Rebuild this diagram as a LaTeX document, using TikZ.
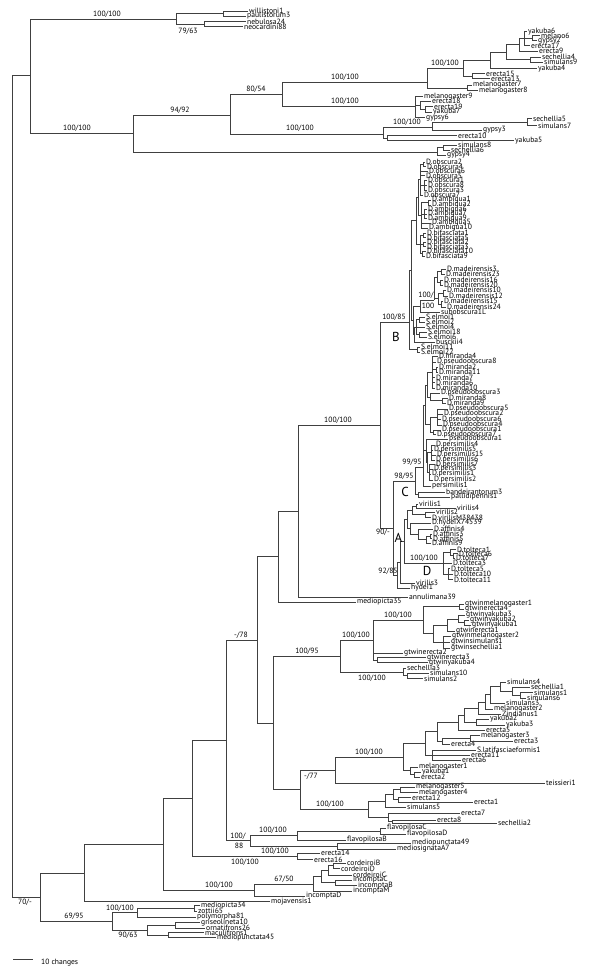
\documentclass[tikz,border=0pt]{standalone}
\usepackage{fontspec}
\setmainfont{PT Sans}
\begin{document}
\begin{tikzpicture}[x=1pt,y=-1pt,
  br/.style={draw=black!75, line width=0.6pt},
  leaf/.style={anchor=west, inner sep=1pt, font=\fontsize{7.6}{7.6}\selectfont},
  bs/.style={inner sep=0pt, font=\fontsize{7.6}{7.6}\selectfont},
  clade/.style={inner sep=0pt, font=\fontsize{13}{13}\selectfont}]
\useasboundingbox (0,0) rectangle (600,969);
% Tips:
\node[leaf] (wil1) at (248,11) {willistoni1};
\node[leaf] (pau3) at (246,16) {paulistorum3};
\node[leaf] (neb24) at (246,21.5) {nebulosa24};
\node[leaf] (neo88) at (243,26.5) {neocardini88};
\node[leaf] (yak6) at (527,31.5) {yakuba6};
\node[leaf] (mel6) at (540,35.5) {melano6};
\node[leaf] (gyp2) at (537,40.5) {gypsy2};
\node[leaf] (ere17) at (530,45.5) {erecta17};
\node[leaf] (ere9) at (538,51) {erecta9};
\node[leaf] (sec4) at (541,57) {sechellia4};
\node[leaf] (sim9) at (543,62) {simulans9};
\node[leaf] (yak4) at (537,68.5) {yakuba4};
\node[leaf] (ere15) at (485,73.5) {erecta15};
\node[leaf] (ere13) at (490,78.5) {erecta13};
\node[leaf] (mel7) at (472,85) {melanogaster7};
\node[leaf] (mel8) at (478,90.5) {melanogaster8};
\node[leaf] (mel9) at (423,96.5) {melanogaster9};
\node[leaf] (ere18) at (431,101) {erecta18};
\node[leaf] (ere19) at (433,106.5) {erecta19};
\node[leaf] (yak7) at (432,112) {yakuba7};
\node[leaf] (gyp6) at (425,117.5) {gypsy6};
\node[leaf] (sec5) at (532,118.5) {sechellia5};
\node[leaf] (sim7) at (537,125.5) {simulans7};
\node[leaf] (gyp3) at (482,130) {gypsy3};
\node[leaf] (ere10) at (457,135.5) {erecta10};
\node[leaf] (yak5) at (514,140.5) {yakuba5};
\node[leaf] (sim8) at (457,145) {simulans8};
\node[leaf] (sec6) at (450,150) {sechellia6};
\node[leaf] (gyp4) at (446,155) {gypsy4};
\node[leaf] (ob2) at (425,162) {D.obscura2};
\node[leaf] (ob4) at (426,166.5) {D.obscura4};
\node[leaf] (ob6) at (428,171) {D.obscura6};
\node[leaf] (ob5) at (425,175.5) {D.obscura5};
\node[leaf] (ob1) at (427,180) {D.obscura1};
\node[leaf] (ob8) at (427,185) {D.obscura8};
\node[leaf] (ob3) at (427,190) {D.obscura3};
\node[leaf] (ob7) at (423,195) {D.obscura7};
\node[leaf] (am1) at (431,200) {D.ambigua1};
\node[leaf] (am2) at (431,205) {D.ambigua2};
\node[leaf] (am6) at (427,209.5) {D.ambigua6};
\node[leaf] (am7) at (427,214) {D.ambigua7};
\node[leaf] (am9) at (427,218.5) {D.ambigua9};
\node[leaf] (am5) at (431,223) {D.ambigua5};
\node[leaf] (am10) at (428,228) {D.ambigua10};
\node[leaf] (bi1) at (426,233) {D.bifasciata1};
\node[leaf] (bi5) at (426,237.5) {D.bifasciata5};
\node[leaf] (bi2) at (426,242) {D.bifasciata2};
\node[leaf] (bi3) at (426,246.5) {D.bifasciata3};
\node[leaf] (bi10) at (426,251) {D.bifasciata10};
\node[leaf] (bi9) at (425,256) {D.bifasciata9};
\node[leaf] (ma3) at (446,269) {D.madeirensis3};
\node[leaf] (ma23) at (445,274) {D.madeirensis23};
\node[leaf] (ma16) at (443,280) {D.madeirensis16};
\node[leaf] (ma20) at (443,285) {D.madeirensis20};
\node[leaf] (ma10) at (446,290) {D.madeirensis10};
\node[leaf] (ma12) at (448,296) {D.madeirensis12};
\node[leaf] (ma15) at (443,301) {D.madeirensis15};
\node[leaf] (ma24) at (446,307) {D.madeirensis24};
\node[leaf] (sub1L) at (440,312) {subobscura1L};
\node[leaf] (el1) at (425,317) {S.elmoi1};
\node[leaf] (el2) at (425,322) {S.elmoi2};
\node[leaf] (el4) at (425,327) {S.elmoi4};
\node[leaf] (el18) at (427,332) {S.elmoi18};
\node[leaf] (el6) at (427,337) {S.elmoi6};
\node[leaf] (bus4) at (435,342) {busckii4};
\node[leaf] (el11) at (420,347) {S.elmoi11};
\node[leaf] (el22) at (420,352) {S.elmoi22};
\node[leaf] (mi4) at (438,356) {D.miranda4};
\node[leaf] (ps8) at (436,362) {D.pseudoobscura8};
\node[leaf] (mi2) at (438,367) {D.miranda2};
\node[leaf] (mi11) at (438,372) {D.miranda11};
\node[leaf] (mi7) at (435,377.5) {D.miranda7};
\node[leaf] (mi6) at (435,382.5) {D.miranda6};
\node[leaf] (mi10) at (435,388) {D.miranda10};
\node[leaf] (ps3) at (440,393) {D.pseudoobscura3};
\node[leaf] (mi8) at (448,398) {D.miranda8};
\node[leaf] (mi9) at (446,403) {D.miranda9};
\node[leaf] (ps5) at (448,409) {D.pseudoobscura5};
\node[leaf] (ps2) at (443,414) {D.pseudoobscura2};
\node[leaf] (ps6) at (441,419.5) {D.pseudoobscura6};
\node[leaf] (ps4) at (442,425) {D.pseudoobscura4};
\node[leaf] (ps1) at (441,430) {D.pseudoobscura1};
\node[leaf] (ps7) at (436,434.5) {D.pseudoobscura7};
\node[leaf] (pso1) at (448,439) {pseudoobscura1};
\node[leaf] (pe4) at (435,445) {D.persimilis4};
\node[leaf] (pe5) at (433,450) {D.persimilis5};
\node[leaf] (pe15) at (436,455) {D.persimilis15};
\node[leaf] (pe6) at (435,460) {D.persimilis6};
\node[leaf] (pe7) at (435,464.5) {D.persimilis7};
\node[leaf] (pe3) at (433,469) {D.persimilis3};
\node[leaf] (pe1) at (431,474) {D.persimilis1};
\node[leaf] (pe2) at (433,480) {D.persimilis2};
\node[leaf] (per1) at (431,486) {persimilis1};
\node[leaf] (ban3) at (445,492) {bandeirantorum3};
\node[leaf] (pal1) at (450,497) {pallidipennis1};
\node[leaf] (v1) at (418,504) {virilis1};
\node[leaf] (v4) at (456,508) {virilis4};
\node[leaf] (v2) at (435,512) {virilis2};
\node[leaf] (vM) at (431,517.5) {D.virilisM38438};
\node[leaf] (hX) at (431,523) {D.hydeiX74539};
\node[leaf] (af4) at (433,529) {D.affinis4};
\node[leaf] (af3) at (432,534) {D.affinis3};
\node[leaf] (af5) at (432,538.5) {D.affinis5};
\node[leaf] (af9) at (431,543) {D.affinis9};
\node[leaf] (to1) at (456,549.5) {D.tolteca1};
\node[leaf] (to6) at (458,553.5) {D.tolteca6};
\node[leaf] (to7) at (455,558) {D.tolteca7};
\node[leaf] (to3) at (452,563) {D.tolteca3};
\node[leaf] (to5) at (450,568.5) {D.tolteca5};
\node[leaf] (to10) at (453,574) {D.tolteca10};
\node[leaf] (to11) at (453,579.5) {D.tolteca11};
\node[leaf] (v3) at (415,583) {virilis3};
\node[leaf] (hy1) at (410,588) {hydei1};
\node[leaf] (ann39) at (408,597) {annulimana39};
\node[leaf] (med35) at (356,602) {mediopicta35};
\node[leaf] (gm1) at (464,604) {gtwinmelanogaster1};
\node[leaf] (ge4) at (464,609) {gtwinerecta4};
\node[leaf] (gy3) at (465,615) {gtwinyakuba3};
\node[leaf] (gy2) at (469,620) {gtwinyakuba2};
\node[leaf] (gy1) at (471,625) {gtwinyakuba1};
\node[leaf] (ge1) at (455,631) {gtwinerecta1};
\node[leaf] (gm2) at (451,636) {gtwinmelanogaster2};
\node[leaf] (gs1) at (450,642) {gtwinsimulans1};
\node[leaf] (gse1) at (450,648) {gtwinsechellia1};
\node[leaf] (ge2) at (403,653) {gtwinerecta2};
\node[leaf] (ge3) at (426,657.5) {gtwinerecta3};
\node[leaf] (gy4) at (428,662.5) {gtwinyakuba4};
\node[leaf] (sec3) at (406,668) {sechellia3};
\node[leaf] (sim10) at (429,673) {simulans10};
\node[leaf] (sim2) at (423,678.5) {simulans2};
\node[leaf] (sim4) at (506,682) {simulans4};
\node[leaf] (sec1) at (530,687) {sechellia1};
\node[leaf] (sim1) at (533,692.5) {simulans1};
\node[leaf] (sim6) at (526,698) {simulans6};
\node[leaf] (sim3) at (505,703) {simulans3};
\node[leaf] (mel2) at (493,709) {melanogaster2};
\node[leaf] (zin1) at (501,714) {Zindianus1};
\node[leaf] (yak2) at (489,719) {yakuba2};
\node[leaf] (yak3) at (505,725) {yakuba3};
\node[leaf] (ere5) at (485,730) {erecta5};
\node[leaf] (mel3) at (480,735.5) {melanogaster3};
\node[leaf] (ere3) at (513,741) {erecta3};
\node[leaf] (ere4) at (450,744) {erecta4};
\node[leaf] (slat) at (476,750) {S.latifasciaeformis1};
\node[leaf] (ere11) at (470,755) {erecta11};
\node[leaf] (ere6) at (461,760) {erecta6};
\node[leaf] (mel1) at (418,767) {melanogaster1};
\node[leaf] (yak1) at (421,772) {yakuba1};
\node[leaf] (ere2) at (420,777) {erecta2};
\node[leaf] (tei1) at (545,783) {teissieri1};
\node[leaf] (mel5) at (415,787) {melanogaster5};
\node[leaf] (mel4) at (418,792.5) {melanogaster4};
\node[leaf] (ere12) at (411,797.5) {erecta12};
\node[leaf] (ere1) at (473,802) {erecta1};
\node[leaf] (sim5) at (406,807) {simulans5};
\node[leaf] (ere7) at (460,813) {erecta7};
\node[leaf] (ere8) at (436,820) {erecta8};
\node[leaf] (sec2) at (497,823) {sechellia2};
\node[leaf] (flC) at (386,828) {flavopilosaC};
\node[leaf] (flD) at (406,834) {flavopilosaD};
\node[leaf] (flB) at (346,840) {flavopilosaB};
\node[leaf] (mp49) at (411,843) {mediopunctata49};
\node[leaf] (msA7) at (396,849) {mediosignataA7};
\node[leaf] (e14) at (320,853) {erecta14};
\node[leaf] (e16) at (313,859.5) {erecta16};
\node[leaf] (coB) at (346,863) {cordeiroiB};
\node[leaf] (coD) at (340,868.5) {cordeiroiD};
\node[leaf] (coC) at (352,875) {cordeiroiC};
\node[leaf] (inC) at (352,880) {incomptaC};
\node[leaf] (inB) at (357,885.5) {incomptaB};
\node[leaf] (inM) at (352,891) {incomptaM};
\node[leaf] (inD) at (305,896) {incomptaD};
\node[leaf] (moj1) at (270,901.5) {mojavensis1};
\node[leaf] (mp34) at (200,905.5) {mediopicta34};
\node[leaf] (zo65) at (197,911) {zottii65};
\node[leaf] (po81) at (196,917) {polymorpha81};
\node[leaf] (gr10) at (200,922.5) {griseolineta10};
\node[leaf] (or26) at (205,928) {ornatifrons26};
\node[leaf] (mc1) at (204,932.5) {maculifrons1};
\node[leaf] (mp45) at (216,937.5) {mediopunctata45};
% Inner nodes:
\coordinate (n12) at (12,486);
\coordinate (n30) at (30,75);
\coordinate (n176) at (176,19);
\coordinate (n223) at (223,13.5);
\coordinate (n204) at (204,24);
\coordinate (n133) at (133,133);
\coordinate (n230) at (230,115);
\coordinate (n282) at (282,94);
\coordinate (n427) at (427,82);
\coordinate (n463) at (463,68);
\coordinate (n490) at (490,60);
\coordinate (n506) at (506,52);
\coordinate (n519) at (519,44.5);
\coordinate (n524) at (524,38);
\coordinate (n532) at (532,38);
\coordinate (n530) at (530,59.5);
\coordinate (n472) at (472,76);
\coordinate (n467) at (467,88);
\coordinate (n415) at (415,106);
\coordinate (n420) at (420,105);
\coordinate (n425) at (425,109);
\coordinate (n383) at (383,134);
\coordinate (n432) at (432,127);
\coordinate (n527) at (527,122);
\coordinate (n387) at (387,138);
\coordinate (n437) at (437,152);
\coordinate (n443) at (443,147.5);
\coordinate (n40) at (40,897);
\coordinate (n84) at (84,873);
\coordinate (n163) at (163,844);
\coordinate (n192) at (192,798);
\coordinate (n226) at (226,740);
\coordinate (n257) at (257,640);
\coordinate (n278) at (278,556);
\coordinate (n298) at (298,511);
\coordinate (n380) at (380,425);
\coordinate (n410) at (409,322);
\coordinate (nB1) at (411,270);
\coordinate (nOAB) at (416,220.7);
\coordinate (nOA) at (418,197);
\coordinate (nOb) at (420.5,179.5);
\coordinate (nOb1) at (423,164.25);
\coordinate (nOb2) at (424.5,185);
\coordinate (nAm) at (421,215);
\coordinate (nAm1) at (428,202.5);
\coordinate (nAm2) at (424,214);
\coordinate (nBi) at (420,244.4);
\coordinate (nBi1) at (423,235.25);
\coordinate (nBi2) at (423,244.25);
\coordinate (nBi3) at (422.5,253.5);
\coordinate (nMSE) at (413,320);
\coordinate (nMS) at (420,306);
\coordinate (nMad) at (434,300);
\coordinate (nMa12) at (437,277);
\coordinate (nMa34) at (438,298.5);
\coordinate (nMa1) at (441,271.5);
\coordinate (nMa2) at (440,282.5);
\coordinate (nMa3) at (443,293);
\coordinate (nMa4) at (441,304);
\coordinate (nElb) at (414,334.5);
\coordinate (nEl) at (416,327);
\coordinate (nEl1) at (419,319.5);
\coordinate (nEl2) at (419,334.5);
\coordinate (nEl11) at (417,349.5);
\coordinate (n393) at (393,528);
\coordinate (nC98) at (415,481);
\coordinate (nC99) at (423,467);
\coordinate (nPM) at (425,405);
\coordinate (nMP) at (427,385);
\coordinate (nMir) at (432,372);
\coordinate (nMi2) at (436,369.5);
\coordinate (nPs) at (430,397);
\coordinate (nM89) at (442,400.5);
\coordinate (nP57) at (430,424.5);
\coordinate (nP5) at (437,417);
\coordinate (nP7) at (433,432);
\coordinate (nPeP) at (426,450.5);
\coordinate (nPe) at (427,462);
\coordinate (nPe1) at (431,452.5);
\coordinate (nPe2) at (429,472);
\coordinate (nBP) at (418,494.5);
\coordinate (nHy) at (397,575);
\coordinate (nV3) at (400,562);
\coordinate (nVD) at (404,541);
\coordinate (nVH) at (407,519.5);
\coordinate (nVir) at (412,510.4);
\coordinate (nV1) at (416,506);
\coordinate (nV2) at (425,514.75);
\coordinate (nHA) at (410,528.7);
\coordinate (nAff) at (418,534.3);
\coordinate (nAffX) at (426,539.6);
\coordinate (n430) at (430,536.25);
\coordinate (nD) at (443,563);
\coordinate (nT16) at (450,552.6);
\coordinate (n453) at (453,555.75);
\coordinate (nT35) at (448,574);
\coordinate (n273) at (273,723);
\coordinate (n340) at (340,656);
\coordinate (n373) at (373,640);
\coordinate (n423g) at (423,620);
\coordinate (nGM) at (459,606.5);
\coordinate (nG433) at (433,633.5);
\coordinate (nGE) at (447,625);
\coordinate (nGY) at (458,619);
\coordinate (nGY2) at (464,622.5);
\coordinate (nGS) at (443,642);
\coordinate (n377) at (377,660);
\coordinate (n403b) at (403,671.9);
\coordinate (n407) at (407,675.75);
\coordinate (n300) at (300,789.5);
\coordinate (n335) at (335,770);
\coordinate (n403) at (403,757);
\coordinate (nM) at (425,743.4);
\coordinate (nTop) at (437,731.75);
\coordinate (nT2) at (458,722.5);
\coordinate (nT1) at (464,715);
\coordinate (nZ) at (478,708);
\coordinate (nS5) at (485,702);
\coordinate (nS4) at (490,694.75);
\coordinate (nSim) at (500,686.5);
\coordinate (nS2) at (512,691);
\coordinate (n520s) at (520,695.25);
\coordinate (nYk2) at (476,722);
\coordinate (nE4) at (442,741);
\coordinate (nE3) at (470,738.25);
\coordinate (nLow) at (432,755);
\coordinate (nMel1) at (410,770.75);
\coordinate (n414) at (414,774.5);
\coordinate (n368) at (368,809);
\coordinate (nB8) at (385,801);
\coordinate (nA8) at (393,794.75);
\coordinate (nMel45) at (400,789.75);
\coordinate (nE12) at (398,799.75);
\coordinate (nE78) at (388,817.25);
\coordinate (n392) at (392,821.5);
\coordinate (n250) at (250,840.75);
\coordinate (n297f) at (297,835.5);
\coordinate (n380f) at (380,831);
\coordinate (n337) at (337,846);
\coordinate (nE14) at (297,856.25);
\coordinate (n254) at (254,890);
\coordinate (n313) at (313,883.8);
\coordinate (n321) at (321,876.6);
\coordinate (n328) at (328,870.4);
\coordinate (n333c) at (333,865.75);
\coordinate (n335i) at (335,882.75);
\coordinate (n112) at (112,921.4);
\coordinate (n137) at (137,912.6);
\coordinate (n194) at (194,908.25);
\coordinate (n147) at (147,930.1);
\coordinate (n175) at (175,925.25);
\coordinate (n168) at (168,935);
% Branches:
\draw[br] (n12) |- (n30) (n12) |- (n40);
\draw[br] (n30) |- (n176) (n30) |- (n133);
\draw[br] (n176) |- (n223) (n176) |- (n204);
\draw[br] (n223) |- (wil1.west) (n223) |- (pau3.west);
\draw[br] (n204) |- (neb24.west) (n204) |- (neo88.west);
\draw[br] (n133) |- (n230) (n133) |- (n437);
\draw[br] (n230) |- (n282) (n230) |- (n383);
\draw[br] (n282) |- (n427) (n282) |- (n415);
\draw[br] (n427) |- (n463) (n427) |- (n467);
\draw[br] (n463) |- (n490) (n463) |- (n472);
\draw[br] (n490) |- (n506) (n490) |- (yak4.west);
\draw[br] (n506) |- (n519) (n506) |- (n530);
\draw[br] (n519) |- (n524) (n519) |- (ere9.west);
\draw[br] (n524) |- (yak6.west) (n524) -- (n532) (n524) |- (ere17.west);
\draw[br] (n532) |- (mel6.west) (n532) |- (gyp2.west);
\draw[br] (n530) |- (sec4.west) (n530) |- (sim9.west);
\draw[br] (n472) |- (ere15.west) (n472) |- (ere13.west);
\draw[br] (n467) |- (mel7.west) (n467) |- (mel8.west);
\draw[br] (n415) |- (mel9.west) (n415) |- (n420) (n415) |- (gyp6.west);
\draw[br] (n420) |- (ere18.west) (n420) |- (n425);
\draw[br] (n425) |- (ere19.west) (n425) |- (yak7.west);
\draw[br] (n383) |- (n432) (n383) |- (n387);
\draw[br] (n432) |- (n527) (n432) |- (gyp3.west);
\draw[br] (n527) |- (sec5.west) (n527) |- (sim7.west);
\draw[br] (n387) |- (ere10.west) (n387) |- (yak5.west);
\draw[br] (n437) |- (n443) (n437) |- (gyp4.west);
\draw[br] (n443) |- (sim8.west) (n443) |- (sec6.west);
\draw[br] (n40) |- (n84) (n40) |- (n112);
\draw[br] (n84) |- (n163) (n84) |- (moj1.west);
\draw[br] (n163) |- (n192) (n163) |- (n254);
\draw[br] (n192) |- (n226) (n192) |- (nE14);
\draw[br] (n226) |- (n257) (n226) |- (n250);
\draw[br] (n257) |- (n278) (n257) |- (n273);
\draw[br] (n278) |- (n298) (n278) |- (med35.west);
\draw[br] (n298) |- (n380) (n298) |- (ann39.west);
\draw[br] (n380) |- (n410) (n380) |- (n393);
\draw[br] (n410) |- (nB1) (n410) |- (nEl11);
\draw[br] (nB1) |- (nOAB) (nB1) |- (nMSE);
\draw[br] (nOAB) |- (nOA) (nOAB) |- (nBi);
\draw[br] (nOA) |- (nOb) (nOA) |- (nAm);
\draw[br] (nOb) |- (nOb1) (nOb) |- (ob6.west) (nOb) |- (ob5.west) (nOb) |- (nOb2) (nOb) |- (ob7.west);
\draw[br] (nOb1) |- (ob2.west) (nOb1) |- (ob4.west);
\draw[br] (nOb2) |- (ob1.west) (nOb2) |- (ob8.west) (nOb2) |- (ob3.west);
\draw[br] (nAm) |- (nAm1) (nAm) |- (nAm2) (nAm) |- (am5.west) (nAm) |- (am10.west);
\draw[br] (nAm1) |- (am1.west) (nAm1) |- (am2.west);
\draw[br] (nAm2) |- (am6.west) (nAm2) |- (am7.west) (nAm2) |- (am9.west);
\draw[br] (nBi) |- (nBi1) (nBi) |- (nBi2) (nBi) |- (nBi3);
\draw[br] (nBi1) |- (bi1.west) (nBi1) |- (bi5.west);
\draw[br] (nBi2) |- (bi2.west) (nBi2) |- (bi3.west);
\draw[br] (nBi3) |- (bi10.west) (nBi3) |- (bi9.west);
\draw[br] (nMSE) |- (nMS) (nMSE) |- (nElb);
\draw[br] (nMS) |- (nMad) (nMS) |- (sub1L.west);
\draw[br] (nMad) |- (nMa12) (nMad) |- (nMa34);
\draw[br] (nMa12) |- (nMa1) (nMa12) |- (nMa2);
\draw[br] (nMa34) |- (nMa3) (nMa34) |- (nMa4);
\draw[br] (nMa1) |- (ma3.west) (nMa1) |- (ma23.west);
\draw[br] (nMa2) |- (ma16.west) (nMa2) |- (ma20.west);
\draw[br] (nMa3) |- (ma10.west) (nMa3) |- (ma12.west);
\draw[br] (nMa4) |- (ma15.west) (nMa4) |- (ma24.west);
\draw[br] (nElb) |- (nEl) (nElb) |- (bus4.west);
\draw[br] (nEl) |- (nEl1) (nEl) |- (el4.west) (nEl) |- (nEl2);
\draw[br] (nEl1) |- (el1.west) (nEl1) |- (el2.west);
\draw[br] (nEl2) |- (el18.west) (nEl2) |- (el6.west);
\draw[br] (nEl11) |- (el11.west) (nEl11) |- (el22.west);
\draw[br] (n393) |- (nC98) (n393) |- (nHy);
\draw[br] (nC98) |- (nC99) (nC98) |- (nBP);
\draw[br] (nC99) |- (nPM) (nC99) |- (nPeP) (nC99) |- (per1.west);
\draw[br] (nPM) |- (nMP) (nPM) |- (nP57);
\draw[br] (nMP) |- (nMir) (nMP) |- (nPs);
\draw[br] (nMir) |- (mi4.west) (nMir) |- (ps8.west) (nMir) |- (nMi2) (nMir) |- (mi7.west) (nMir) |- (mi6.west) (nMir) |- (mi10.west);
\draw[br] (nMi2) |- (mi2.west) (nMi2) |- (mi11.west);
\draw[br] (nPs) |- (ps3.west) (nPs) |- (nM89);
\draw[br] (nM89) |- (mi8.west) (nM89) |- (mi9.west);
\draw[br] (nP57) |- (nP5) (nP57) |- (nP7);
\draw[br] (nP5) |- (ps5.west) (nP5) |- (ps2.west) (nP5) |- (ps6.west) (nP5) |- (ps4.west);
\draw[br] (nP7) |- (ps1.west) (nP7) |- (ps7.west);
\draw[br] (nPeP) |- (pso1.west) (nPeP) |- (nPe);
\draw[br] (nPe) |- (nPe1) (nPe) |- (nPe2);
\draw[br] (nPe1) |- (pe4.west) (nPe1) |- (pe5.west) (nPe1) |- (pe15.west) (nPe1) |- (pe6.west);
\draw[br] (nPe2) |- (pe7.west) (nPe2) |- (pe3.west) (nPe2) |- (pe1.west) (nPe2) |- (pe2.west);
\draw[br] (nBP) |- (ban3.west) (nBP) |- (pal1.west);
\draw[br] (nHy) |- (nV3) (nHy) |- (hy1.west);
\draw[br] (nV3) |- (nVD) (nV3) |- (v3.west);
\draw[br] (nVD) |- (nVH) (nVD) |- (nD);
\draw[br] (nVH) |- (nVir) (nVH) |- (nHA);
\draw[br] (nVir) |- (nV1) (nVir) |- (nV2);
\draw[br] (nV1) |- (v1.west) (nV1) |- (v4.west);
\draw[br] (nV2) |- (v2.west) (nV2) |- (vM.west);
\draw[br] (nHA) |- (hX.west) (nHA) |- (nAff);
\draw[br] (nAff) |- (af4.west) (nAff) |- (nAffX);
\draw[br] (nAffX) |- (n430) (nAffX) |- (af9.west);
\draw[br] (n430) |- (af3.west) (n430) |- (af5.west);
\draw[br] (nD) |- (nT16) (nD) |- (to3.west) (nD) |- (nT35);
\draw[br] (nT16) |- (to1.west) (nT16) |- (n453);
\draw[br] (n453) |- (to6.west) (n453) |- (to7.west);
\draw[br] (nT35) |- (to5.west) (nT35) |- (to10.west) (nT35) |- (to11.west);
\draw[br] (n273) |- (n340) (n273) |- (n300);
\draw[br] (n340) |- (n373) (n340) |- (n403b);
\draw[br] (n373) |- (n423g) (n373) |- (ge2.west) (n373) |- (n377);
\draw[br] (n423g) |- (nGM) (n423g) |- (nG433);
\draw[br] (nGM) |- (gm1.west) (nGM) |- (ge4.west);
\draw[br] (nG433) |- (nGE) (nG433) |- (nGS);
\draw[br] (nGE) |- (nGY) (nGE) |- (ge1.west);
\draw[br] (nGY) |- (gy3.west) (nGY) |- (nGY2);
\draw[br] (nGY2) |- (gy2.west) (nGY2) |- (gy1.west);
\draw[br] (nGS) |- (gm2.west) (nGS) |- (gs1.west) (nGS) |- (gse1.west);
\draw[br] (n377) |- (ge3.west) (n377) |- (gy4.west);
\draw[br] (n403b) |- (sec3.west) (n403b) |- (n407);
\draw[br] (n407) |- (sim10.west) (n407) |- (sim2.west);
\draw[br] (n300) |- (n335) (n300) |- (n368);
\draw[br] (n335) |- (n403) (n335) |- (tei1.west);
\draw[br] (n403) |- (nM) (n403) |- (nMel1);
\draw[br] (nM) |- (nTop) (nM) |- (nLow);
\draw[br] (nTop) |- (nT2) (nTop) |- (nE4);
\draw[br] (nT2) |- (nT1) (nT2) |- (ere5.west);
\draw[br] (nT1) |- (nZ) (nT1) |- (nYk2);
\draw[br] (nZ) |- (nS5) (nZ) |- (zin1.west);
\draw[br] (nS5) |- (nS4) (nS5) |- (mel2.west);
\draw[br] (nS4) |- (nSim) (nS4) |- (sim3.west);
\draw[br] (nSim) |- (sim4.west) (nSim) |- (nS2);
\draw[br] (nS2) |- (sec1.west) (nS2) |- (n520s);
\draw[br] (n520s) |- (sim1.west) (n520s) |- (sim6.west);
\draw[br] (nYk2) |- (yak2.west) (nYk2) |- (yak3.west);
\draw[br] (nE4) |- (nE3) (nE4) |- (ere4.west);
\draw[br] (nE3) |- (mel3.west) (nE3) |- (ere3.west);
\draw[br] (nLow) |- (slat.west) (nLow) |- (ere11.west) (nLow) |- (ere6.west);
\draw[br] (nMel1) |- (mel1.west) (nMel1) |- (n414);
\draw[br] (n414) |- (yak1.west) (n414) |- (ere2.west);
\draw[br] (n368) |- (nB8) (n368) |- (nE78);
\draw[br] (nB8) |- (nA8) (nB8) |- (sim5.west);
\draw[br] (nA8) |- (nMel45) (nA8) |- (nE12);
\draw[br] (nMel45) |- (mel5.west) (nMel45) |- (mel4.west);
\draw[br] (nE12) |- (ere12.west) (nE12) |- (ere1.west);
\draw[br] (nE78) |- (ere7.west) (nE78) |- (n392);
\draw[br] (n392) |- (ere8.west) (n392) |- (sec2.west);
\draw[br] (n250) |- (n297f) (n250) |- (n337);
\draw[br] (n297f) |- (n380f) (n297f) |- (flB.west);
\draw[br] (n380f) |- (flC.west) (n380f) |- (flD.west);
\draw[br] (n337) |- (mp49.west) (n337) |- (msA7.west);
\draw[br] (nE14) |- (e14.west) (nE14) |- (e16.west);
\draw[br] (n254) |- (n313) (n254) |- (inD.west);
\draw[br] (n313) |- (n321) (n313) |- (inM.west);
\draw[br] (n321) |- (n328) (n321) |- (n335i);
\draw[br] (n328) |- (n333c) (n328) |- (coC.west);
\draw[br] (n333c) |- (coB.west) (n333c) |- (coD.west);
\draw[br] (n335i) |- (inC.west) (n335i) |- (inB.west);
\draw[br] (n112) |- (n137) (n112) |- (n147);
\draw[br] (n137) |- (n194) (n137) |- (po81.west);
\draw[br] (n194) |- (mp34.west) (n194) |- (zo65.west);
\draw[br] (n147) |- (n175) (n147) |- (n168);
\draw[br] (n175) |- (gr10.west) (n175) |- (or26.west);
\draw[br] (n168) |- (mc1.west) (n168) |- (mp45.west);
% Support values and clade letters:
\node[bs] (s1) at (107,14) {100/100};
\node[bs] (s2) at (188,31) {79/63};
\node[bs] (s3) at (77,128) {100/100};
\node[bs] (s4) at (180,110) {94/92};
\node[bs] (s5) at (256,89) {80/54};
\node[bs] (s6) at (300,128) {100/100};
\node[bs] (s7) at (345,77) {100/100};
\node[bs] (s8) at (345,101) {100/100};
\node[bs] (s9) at (445,63) {100/100};
\node[bs] (s10) at (407,122) {100/100};
\node[bs] (s11) at (338,420) {100/100};
\node[bs] (s12) at (394,317) {100/85};
\node[bs] (s13) at (426,295) {100/};
\node[bs] (s14) at (428,305.5) {100};
\node[bs] (s15) at (412,462) {99/95};
\node[bs] (s16) at (404,476.5) {98/95};
\node[bs] (s17) at (383,532) {90/-};
\node[bs] (s18) at (388,571) {92/85};
\node[bs] (s19) at (424,558) {100/100};
\node[bs] (s20) at (241,635) {-/78};
\node[bs] (s21) at (398,615) {100/100};
\node[bs] (s22) at (356,635) {100/100};
\node[bs] (s23) at (372,678) {100/100};
\node[bs] (s24) at (307,651) {100/95};
\node[bs] (s25) at (369,752) {100/100};
\node[bs] (s26) at (311,776) {-/77};
\node[bs] (s27) at (330,804) {100/100};
\node[bs] (s28) at (238,836) {100/};
\node[bs] (s29) at (239,846) {88};
\node[bs] (s30) at (273,830) {100/100};
\node[bs] (s31) at (275,851) {100/100};
\node[bs] (s32) at (245,862) {100/100};
\node[bs] (s33) at (219,885) {100/100};
\node[bs] (s34) at (284,879) {67/50};
\node[bs] (s35) at (25,902) {70/-};
\node[bs] (s36) at (74,916.5) {69/95};
\node[bs] (s37) at (120,908) {100/100};
\node[bs] (s38) at (128,935) {90/63};
\node[clade] (cB) at (396,337) {B};
\node[clade] (cC) at (405,492) {C};
\node[clade] (cA) at (398.5,538) {A};
\node[clade] (cD) at (427,571) {D};
% Scale bar:
\coordinate (sb1) at (13,959);
\coordinate (sb2) at (33,959);
\draw[br] (sb1) -- (sb2);
\node[leaf] (sbl) at (40,963) {10 changes};
\end{tikzpicture}
\end{document}
